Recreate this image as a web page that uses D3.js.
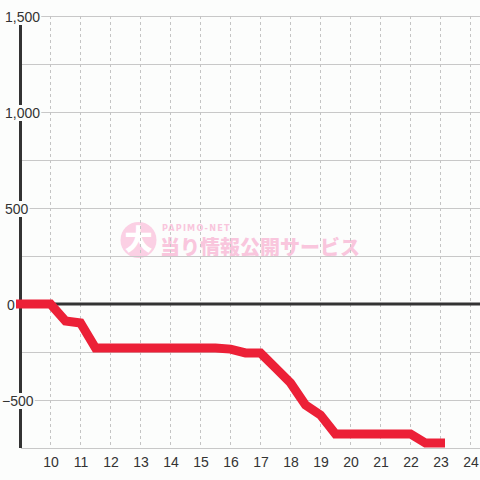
<!DOCTYPE html>
<html>
<head>
<meta charset="utf-8">
<script src="https://cdn.jsdelivr.net/npm/d3@7"></script>
<style>
  html, body { margin: 0; padding: 0; background: #fcfdfc; }
  svg { display: block; }
</style>
</head>
<body>
<svg id="chart" width="480" height="480"></svg>
<script>
// ---- data ----
const hours = [9, 9.5, 10, 10.5, 11, 11.5, 12, 12.5, 13, 13.5, 14, 14.5, 15, 15.5, 16, 16.5, 17, 17.5, 18, 18.5, 19, 19.5, 20, 20.5, 21, 21.5, 22, 22.5, 23];
const values = [0, 0, 0, -89, -99, -229, -229, -229, -229, -229, -229, -229, -229, -229, -235, -255, -255, -333, -411, -526, -578, -677, -677, -677, -677, -677, -677, -724, -724];
const xTickValues = [10, 11, 12, 13, 14, 15, 16, 17, 18, 19, 20, 21, 22, 23, 24];
const yLabelValues = [-500, 0, 500, 1000, 1500];
const yGridValues = [-750, -500, -250, 0, 250, 500, 750, 1000, 1250, 1500];
const watermarkSub = "PAPIMO-NET";
const watermarkMain = "当り情報公開サービス";
const watermarkIcon = "大";

// ---- layout ----
const W = 480, H = 480;
const svg = d3.select("#chart");
const x = d3.scaleLinear().domain([9, 24.3167]).range([20.5, 480]);
const y = d3.scaleLinear().domain([-750, 1500]).range([448, 16]);
const font = "'Liberation Sans', Arial, sans-serif";

svg.append("rect").attr("width", W).attr("height", H).attr("fill", "#fcfdfc");

// watermark
const wm = svg.append("g");
wm.append("circle").attr("cx", 138.5).attr("cy", 240).attr("r", 18).attr("fill", "#fbd0e4");
wm.append("text").attr("x", 138.5).attr("y", 250).attr("text-anchor", "middle")
  .attr("font-family", "'Noto Sans CJK JP'").attr("font-weight", 900).attr("font-size", 28)
  .attr("fill", "#ffffff").text(watermarkIcon);
wm.append("text").attr("x", 162).attr("y", 231)
  .attr("font-family", "'DejaVu Sans Condensed', 'DejaVu Sans', sans-serif").attr("font-weight", "bold").attr("font-size", 9)
  .attr("letter-spacing", 1.2).attr("fill", "#f9c6dd").text(watermarkSub);
wm.append("text").attr("x", 160).attr("y", 255)
  .attr("font-family", "'Noto Sans CJK JP'").attr("font-weight", 900).attr("font-size", 20)
  .attr("fill", "#f9c6dd").text(watermarkMain);

// horizontal grid
svg.append("g").selectAll("line").data(yGridValues).join("line")
  .attr("x1", x(9)).attr("x2", W)
  .attr("y1", d => y(d)).attr("y2", d => y(d))
  .attr("stroke", "#c8c8c8").attr("stroke-width", 1)
  .attr("shape-rendering", "crispEdges");

// vertical dashed grid
svg.append("g").selectAll("line").data(xTickValues).join("line")
  .attr("x1", d => Math.round(x(d)) + 0.5).attr("x2", d => Math.round(x(d)) + 0.5)
  .attr("y1", y(1500)).attr("y2", y(-750))
  .attr("stroke", "#c4c4c4").attr("stroke-width", 1)
  .attr("stroke-dasharray", "3,3");

// zero line
svg.append("line").attr("x1", x(9)).attr("x2", W).attr("y1", y(0)).attr("y2", y(0))
  .attr("stroke", "#333").attr("stroke-width", 3);

// y axis bar
svg.append("line").attr("x1", x(9)).attr("x2", x(9)).attr("y1", y(1500)).attr("y2", y(-750))
  .attr("stroke", "#333").attr("stroke-width", 3);

// y labels with background boxes
const fmt = d3.format(",");
const yl = svg.append("g").selectAll("g").data(yLabelValues).join("g");
yl.each(function(d) {
  const g = d3.select(this);
  const t = g.append("text").attr("x", d === 0 ? 7 : (d < 0 ? 2 : 5)).attr("y", y(d) + 6)
    .attr("font-family", font).attr("font-size", 14).attr("fill", "#333").text(fmt(d));
  const b = t.node().getBBox();
  g.insert("rect", "text").attr("x", b.x - 1).attr("y", b.y).attr("width", b.width + 2).attr("height", b.height)
    .attr("fill", "#fcfdfc");
});

// data line
const line = d3.line().x((d, i) => x(hours[i])).y(d => y(d));
svg.append("path").datum(values).attr("d", line)
  .attr("fill", "none").attr("stroke", "#ec2037").attr("stroke-width", 9)
  .attr("stroke-linecap", "square").attr("stroke-linejoin", "miter");

// x labels
svg.append("g").selectAll("text").data(xTickValues).join("text")
  .attr("x", d => x(d) + 0.5).attr("y", 467).attr("text-anchor", "middle")
  .attr("font-family", font).attr("font-size", 14).attr("fill", "#333").text(d => d);
</script>
</body>
</html>
